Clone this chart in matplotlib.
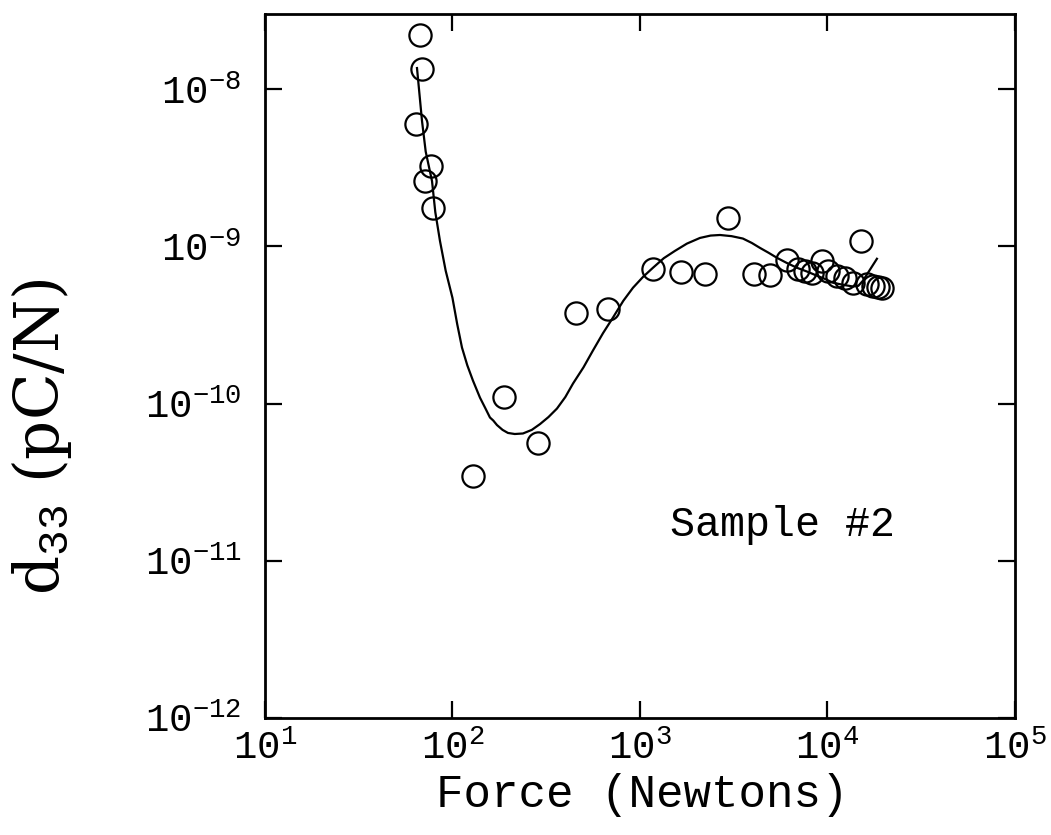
import matplotlib
matplotlib.use('Agg')
import matplotlib.pyplot as plt
from matplotlib.ticker import LogLocator, FuncFormatter, NullLocator
import numpy as np

plt.rcParams['font.family'] = ['Liberation Mono', 'DejaVu Sans']
plt.rcParams['mathtext.fontset'] = 'custom'
plt.rcParams['mathtext.rm'] = 'Liberation Mono'
plt.rcParams['mathtext.it'] = 'Liberation Mono'
plt.rcParams['axes.unicode_minus'] = False

# measured points (Force in N, d33 in pC/N)
force = [67, 68.8, 63.9, 76.8, 71.3, 78.7, 128.6, 188, 286, 456, 675,
         1173, 1655, 2222, 2946, 4055, 4932, 6080, 6966, 7586, 8300, 9354,
         10070, 11240, 12390, 13670, 15100, 16250, 17500, 18600, 19540]
d33 = [2.2e-8, 1.34e-8, 6.0e-9, 3.24e-9, 2.6e-9, 1.75e-9, 3.44e-11, 1.1e-10,
       5.57e-11, 3.79e-10, 4.0e-10, 7.2e-10, 6.9e-10, 6.7e-10, 1.52e-9,
       6.7e-10, 6.6e-10, 8.2e-10, 7.2e-10, 7.0e-10, 6.8e-10, 8.1e-10,
       7.0e-10, 6.5e-10, 6.3e-10, 5.86e-10, 1.08e-9, 5.78e-10, 5.6e-10,
       5.5e-10, 5.45e-10]

# fitted curve
fit_force = [64.7, 68.8, 72, 77.8, 81, 85.8, 92, 100, 106, 112.4, 120,
             128.6, 140.2, 150, 158.5, 165, 172.7, 185, 197.7, 215, 237.7,
             265, 293, 325, 360.9, 400, 439.5, 500, 561, 635, 717.8, 815,
             918, 1040, 1173, 1340, 1537, 1780, 2089, 2380, 2672, 3080,
             3541, 3950, 4365, 4850, 5377, 6050, 6877, 7800, 8790, 9700,
             10690, 12000, 13680, 14600, 15460, 18360]
fit_d33 = [1.36e-8, 6.27e-9, 4.0e-9, 2.6e-9, 1.65e-9, 1.08e-9, 7.0e-10,
           4.7e-10, 3.2e-10, 2.27e-10, 1.75e-10, 1.40e-10, 1.09e-10,
           9.3e-11, 8.15e-11, 7.8e-11, 7.3e-11, 6.8e-11, 6.5e-11, 6.4e-11,
           6.45e-11, 6.8e-11, 7.4e-11, 8.2e-11, 9.29e-11, 1.1e-10, 1.34e-10,
           1.7e-10, 2.17e-10, 2.8e-10, 3.52e-10, 4.5e-10, 5.45e-10, 6.4e-10,
           7.3e-10, 8.4e-10, 9.35e-10, 1.04e-9, 1.13e-9, 1.17e-9, 1.18e-9,
           1.16e-9, 1.12e-9, 1.05e-9, 9.77e-10, 9.1e-10, 8.45e-10, 7.85e-10,
           7.3e-10, 6.9e-10, 6.5e-10, 6.2e-10, 5.87e-10, 5.7e-10, 5.55e-10,
           5.6e-10, 6.04e-10, 8.33e-10]

fig = plt.figure(figsize=(10.51, 8.35), dpi=100)
ax = fig.add_axes([0.2521, 0.1401, 0.7136, 0.8431])

ax.plot(fit_force, fit_d33, color='black', lw=1.6)
ax.plot(force, d33, 'o', mfc='none', mec='black', ms=16, mew=1.6)

ax.set_xscale('log')
ax.set_yscale('log')
ax.set_xlim(1e1, 1e5)
ax.set_ylim(1e-12, 3e-8)

def fmt(v, pos):
    e = int(round(np.log10(v)))
    return r'$\mathdefault{10^{%d}}$' % e

ax.xaxis.set_major_locator(LogLocator(base=10, numticks=10))
ax.yaxis.set_major_locator(LogLocator(base=10, numticks=10))
ax.xaxis.set_minor_locator(NullLocator())
ax.yaxis.set_minor_locator(NullLocator())
ax.xaxis.set_major_formatter(FuncFormatter(fmt))
ax.yaxis.set_major_formatter(FuncFormatter(fmt))

ax.tick_params(which='major', direction='in', length=12, width=1.6,
               top=True, right=True, labelsize=28)
ax.tick_params(axis='x', pad=9)
ax.tick_params(axis='y', pad=17)
for s in ax.spines.values():
    s.set_linewidth(2)

ax.set_xlabel('Force (Newtons)', fontsize=33)
ax.xaxis.set_label_coords(0.503, -0.078)
ax.set_ylabel(r'd$_{33}$ (pC/N)', fontsize=44, family=['DejaVu Serif'])
ax.yaxis.set_label_coords(-0.255, 0.40)

ax.text(1445, 1.68e-11, 'Sample #2', fontsize=30, va='center', ha='left')

fig.savefig('out.png', dpi=100)
